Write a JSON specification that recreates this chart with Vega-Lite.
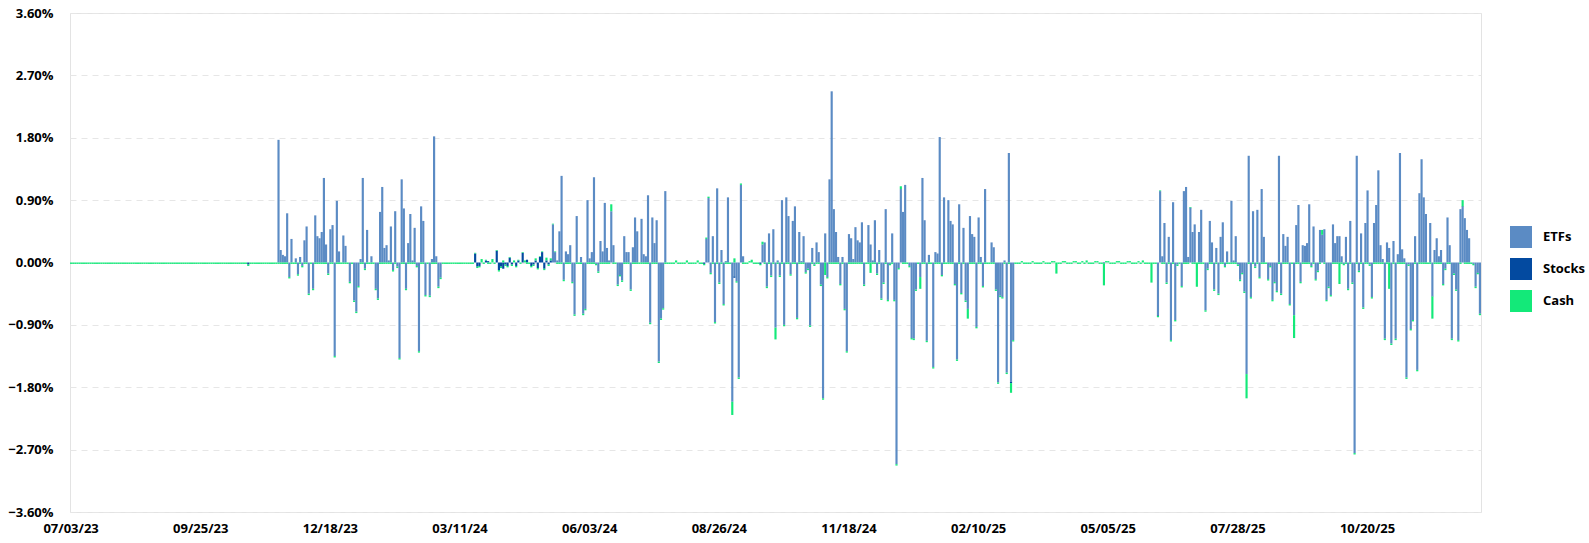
{
"$schema":"https://vega.github.io/schema/vega-lite/v6.json",
"width":1411,"height":499,
"autosize":{"type":"none"},
"padding":{"left":70,"top":13,"right":108,"bottom":31},
"background":"white",
"config":{"view":{"stroke":"#e3e3e3","strokeWidth":1},"font":"Open Sans"},
"data":{"values":[
{"d":"2023-07-03","e":0,"s":0,"c":-0.02},{"d":"2023-07-04","e":0,"s":0,"c":-0.02},{"d":"2023-07-05","e":0,"s":0,"c":-0.02},{"d":"2023-07-06","e":0,"s":0,"c":-0.02},{"d":"2023-07-07","e":0,"s":0,"c":-0.02},
{"d":"2023-07-10","e":0,"s":0,"c":-0.02},{"d":"2023-07-11","e":0,"s":0,"c":-0.02},{"d":"2023-07-12","e":0,"s":0,"c":-0.02},{"d":"2023-07-13","e":0,"s":0,"c":-0.02},{"d":"2023-07-14","e":0,"s":0,"c":-0.02},
{"d":"2023-07-17","e":0,"s":0,"c":-0.02},{"d":"2023-07-18","e":0,"s":0,"c":-0.02},{"d":"2023-07-19","e":0,"s":0,"c":-0.02},{"d":"2023-07-20","e":0,"s":0,"c":-0.02},{"d":"2023-07-21","e":0,"s":0,"c":-0.02},
{"d":"2023-07-24","e":0,"s":0,"c":-0.02},{"d":"2023-07-25","e":0,"s":0,"c":-0.02},{"d":"2023-07-26","e":0,"s":0,"c":-0.02},{"d":"2023-07-27","e":0,"s":0,"c":-0.02},{"d":"2023-07-28","e":0,"s":0,"c":-0.02},
{"d":"2023-07-31","e":0,"s":0,"c":-0.02},{"d":"2023-08-01","e":0,"s":0,"c":-0.02},{"d":"2023-08-02","e":0,"s":0,"c":-0.02},{"d":"2023-08-03","e":0,"s":0,"c":-0.02},{"d":"2023-08-04","e":0,"s":0,"c":-0.02},
{"d":"2023-08-07","e":0,"s":0,"c":-0.02},{"d":"2023-08-08","e":0,"s":0,"c":-0.02},{"d":"2023-08-09","e":0,"s":0,"c":-0.02},{"d":"2023-08-10","e":0,"s":0,"c":-0.02},{"d":"2023-08-11","e":0,"s":0,"c":-0.02},
{"d":"2023-08-14","e":0,"s":0,"c":-0.02},{"d":"2023-08-15","e":0,"s":0,"c":-0.02},{"d":"2023-08-16","e":0,"s":0,"c":-0.02},{"d":"2023-08-17","e":0,"s":0,"c":-0.02},{"d":"2023-08-18","e":0,"s":0,"c":-0.02},
{"d":"2023-08-21","e":0,"s":0,"c":-0.02},{"d":"2023-08-22","e":0,"s":0,"c":-0.02},{"d":"2023-08-23","e":0,"s":0,"c":-0.02},{"d":"2023-08-24","e":0,"s":0,"c":-0.02},{"d":"2023-08-25","e":0,"s":0,"c":-0.02},
{"d":"2023-08-28","e":0,"s":0,"c":-0.02},{"d":"2023-08-29","e":0,"s":0,"c":-0.02},{"d":"2023-08-30","e":0,"s":0,"c":-0.02},{"d":"2023-08-31","e":0,"s":0,"c":-0.02},{"d":"2023-09-01","e":0,"s":0,"c":-0.02},
{"d":"2023-09-04","e":0,"s":0,"c":-0.02},{"d":"2023-09-05","e":0,"s":0,"c":-0.02},{"d":"2023-09-06","e":0,"s":0,"c":-0.02},{"d":"2023-09-07","e":0,"s":0,"c":-0.02},{"d":"2023-09-08","e":0,"s":0,"c":-0.02},
{"d":"2023-09-11","e":0,"s":0,"c":-0.02},{"d":"2023-09-12","e":0,"s":0,"c":-0.02},{"d":"2023-09-13","e":0,"s":0,"c":-0.02},{"d":"2023-09-14","e":0,"s":0,"c":-0.02},{"d":"2023-09-15","e":0,"s":0,"c":-0.02},
{"d":"2023-09-18","e":0,"s":0,"c":-0.02},{"d":"2023-09-19","e":0,"s":0,"c":-0.02},{"d":"2023-09-20","e":0,"s":0,"c":-0.02},{"d":"2023-09-21","e":0,"s":0,"c":-0.02},{"d":"2023-09-22","e":0,"s":0,"c":-0.02},
{"d":"2023-09-25","e":0,"s":0,"c":-0.02},{"d":"2023-09-26","e":0,"s":0,"c":-0.02},{"d":"2023-09-27","e":0,"s":0,"c":-0.02},{"d":"2023-09-28","e":0,"s":0,"c":-0.02},{"d":"2023-09-29","e":0,"s":0,"c":-0.02},
{"d":"2023-10-02","e":0,"s":0,"c":-0.02},{"d":"2023-10-03","e":0,"s":0,"c":-0.02},{"d":"2023-10-04","e":0,"s":0,"c":-0.02},{"d":"2023-10-05","e":0,"s":0,"c":-0.02},{"d":"2023-10-06","e":0,"s":0,"c":-0.02},
{"d":"2023-10-09","e":0,"s":0,"c":-0.02},{"d":"2023-10-10","e":0,"s":0,"c":-0.02},{"d":"2023-10-11","e":0,"s":0,"c":-0.02},{"d":"2023-10-12","e":0,"s":0,"c":-0.02},{"d":"2023-10-13","e":0,"s":0,"c":-0.02},
{"d":"2023-10-16","e":0,"s":0,"c":-0.02},{"d":"2023-10-17","e":0,"s":0,"c":-0.02},{"d":"2023-10-18","e":0,"s":0,"c":-0.02},{"d":"2023-10-19","e":0,"s":0,"c":-0.02},{"d":"2023-10-20","e":0,"s":0,"c":-0.02},
{"d":"2023-10-23","e":0,"s":0,"c":-0.02},{"d":"2023-10-24","e":0,"s":0,"c":-0.02},{"d":"2023-10-25","e":0,"s":-0.03,"c":-0.02},{"d":"2023-10-26","e":0,"s":0,"c":-0.02},{"d":"2023-10-27","e":0,"s":0,"c":-0.02},
{"d":"2023-10-30","e":0,"s":0,"c":-0.02},{"d":"2023-10-31","e":0,"s":0,"c":-0.02},{"d":"2023-11-01","e":0,"s":0,"c":-0.02},{"d":"2023-11-02","e":0,"s":0,"c":-0.02},{"d":"2023-11-03","e":0,"s":0,"c":-0.02},
{"d":"2023-11-06","e":0,"s":0,"c":-0.02},{"d":"2023-11-07","e":0,"s":0,"c":-0.02},{"d":"2023-11-08","e":0,"s":0,"c":-0.02},{"d":"2023-11-09","e":0,"s":0,"c":-0.02},{"d":"2023-11-10","e":0,"s":0,"c":-0.02},
{"d":"2023-11-13","e":0,"s":0,"c":-0.02},{"d":"2023-11-14","e":1.77,"s":0,"c":-0.02},{"d":"2023-11-15","e":0.18,"s":0,"c":-0.02},{"d":"2023-11-16","e":0.11,"s":0,"c":-0.02},{"d":"2023-11-17","e":0.09,"s":0,"c":-0.02},
{"d":"2023-11-20","e":0.71,"s":0,"c":-0.02},{"d":"2023-11-21","e":-0.21,"s":0,"c":-0.02},{"d":"2023-11-22","e":0.34,"s":0,"c":-0.02},{"d":"2023-11-23","e":0,"s":0,"c":-0.02},{"d":"2023-11-24","e":0.06,"s":0,"c":-0.02},
{"d":"2023-11-27","e":-0.17,"s":0,"c":-0.02},{"d":"2023-11-28","e":0.08,"s":0,"c":-0.02},{"d":"2023-11-29","e":-0.05,"s":0,"c":-0.02},{"d":"2023-11-30","e":0.32,"s":0,"c":-0.02},{"d":"2023-12-01","e":0.52,"s":0,"c":-0.02},
{"d":"2023-12-04","e":-0.45,"s":0,"c":-0.02},{"d":"2023-12-05","e":0,"s":0,"c":-0.02},{"d":"2023-12-06","e":-0.38,"s":0,"c":-0.02},{"d":"2023-12-07","e":0.68,"s":0,"c":-0.02},{"d":"2023-12-08","e":0.38,"s":0,"c":-0.02},
{"d":"2023-12-11","e":0.35,"s":0,"c":-0.02},{"d":"2023-12-12","e":0.44,"s":0,"c":-0.02},{"d":"2023-12-13","e":1.22,"s":0,"c":-0.02},{"d":"2023-12-14","e":0.26,"s":0,"c":-0.02},{"d":"2023-12-15","e":-0.16,"s":0,"c":-0.02},
{"d":"2023-12-18","e":0.48,"s":0,"c":-0.02},{"d":"2023-12-19","e":0.54,"s":0,"c":-0.02},{"d":"2023-12-20","e":-1.35,"s":0,"c":-0.02},{"d":"2023-12-21","e":0.89,"s":0,"c":-0.02},{"d":"2023-12-22","e":0.16,"s":0,"c":-0.02},
{"d":"2023-12-25","e":0,"s":0,"c":-0.02},{"d":"2023-12-26","e":0.39,"s":0,"c":-0.02},{"d":"2023-12-27","e":0.24,"s":0,"c":-0.02},{"d":"2023-12-28","e":0,"s":0,"c":-0.02},{"d":"2023-12-29","e":-0.28,"s":0,"c":-0.02},
{"d":"2024-01-01","e":0,"s":0,"c":-0.02},{"d":"2024-01-02","e":-0.55,"s":0,"c":-0.02},{"d":"2024-01-03","e":-0.71,"s":0,"c":-0.02},{"d":"2024-01-04","e":-0.34,"s":0,"c":-0.02},{"d":"2024-01-05","e":0.05,"s":0,"c":-0.02},
{"d":"2024-01-08","e":1.22,"s":0,"c":-0.02},{"d":"2024-01-09","e":-0.09,"s":0,"c":-0.02},{"d":"2024-01-10","e":0.47,"s":0,"c":-0.02},{"d":"2024-01-11","e":0,"s":0,"c":-0.02},{"d":"2024-01-12","e":0.09,"s":0,"c":-0.02},
{"d":"2024-01-15","e":0,"s":0,"c":-0.02},{"d":"2024-01-16","e":-0.38,"s":0,"c":-0.02},{"d":"2024-01-17","e":-0.52,"s":0,"c":-0.02},{"d":"2024-01-18","e":0.73,"s":0,"c":-0.02},{"d":"2024-01-19","e":1.09,"s":0,"c":-0.02},
{"d":"2024-01-22","e":0.21,"s":0,"c":-0.02},{"d":"2024-01-23","e":0.25,"s":0,"c":-0.02},{"d":"2024-01-24","e":0.03,"s":0,"c":-0.02},{"d":"2024-01-25","e":0.52,"s":0,"c":-0.02},{"d":"2024-01-26","e":-0.11,"s":0,"c":-0.02},
{"d":"2024-01-29","e":0.74,"s":0,"c":-0.02},{"d":"2024-01-30","e":-0.06,"s":0,"c":-0.02},{"d":"2024-01-31","e":-1.38,"s":0,"c":-0.02},{"d":"2024-02-01","e":1.2,"s":0,"c":-0.02},{"d":"2024-02-02","e":0.78,"s":0,"c":-0.02},
{"d":"2024-02-05","e":-0.38,"s":0,"c":-0.02},{"d":"2024-02-06","e":0.28,"s":0,"c":-0.02},{"d":"2024-02-07","e":0.7,"s":0,"c":-0.02},{"d":"2024-02-08","e":0.03,"s":0,"c":-0.02},{"d":"2024-02-09","e":0.5,"s":0,"c":-0.02},
{"d":"2024-02-12","e":-0.05,"s":0,"c":-0.02},{"d":"2024-02-13","e":-1.28,"s":0,"c":-0.02},{"d":"2024-02-14","e":0.81,"s":0,"c":-0.02},{"d":"2024-02-15","e":0.6,"s":0,"c":-0.02},{"d":"2024-02-16","e":-0.47,"s":0,"c":-0.02},
{"d":"2024-02-19","e":0,"s":0,"c":-0.02},{"d":"2024-02-20","e":-0.48,"s":0,"c":-0.02},{"d":"2024-02-21","e":0.05,"s":0,"c":-0.02},{"d":"2024-02-22","e":1.82,"s":0,"c":-0.02},{"d":"2024-02-23","e":0.09,"s":0,"c":-0.02},
{"d":"2024-02-26","e":-0.35,"s":0,"c":-0.02},{"d":"2024-02-27","e":-0.22,"s":0,"c":-0.02},{"d":"2024-02-28","e":0,"s":0,"c":-0.02},{"d":"2024-02-29","e":0,"s":0,"c":-0.02},{"d":"2024-03-01","e":0,"s":0,"c":-0.02},
{"d":"2024-03-04","e":0,"s":0,"c":-0.02},{"d":"2024-03-05","e":0,"s":0,"c":-0.02},{"d":"2024-03-06","e":0,"s":0,"c":-0.02},{"d":"2024-03-07","e":0,"s":0,"c":-0.02},{"d":"2024-03-08","e":0,"s":0,"c":-0.02},
{"d":"2024-03-11","e":0,"s":0,"c":-0.02},{"d":"2024-03-12","e":0,"s":0,"c":-0.02},{"d":"2024-03-13","e":0,"s":0,"c":-0.02},{"d":"2024-03-14","e":0,"s":0,"c":-0.02},{"d":"2024-03-15","e":0,"s":0,"c":-0.02},
{"d":"2024-03-18","e":0,"s":0,"c":-0.02},{"d":"2024-03-19","e":0,"s":0,"c":-0.02},{"d":"2024-03-20","e":0,"s":0.13,"c":0.01},{"d":"2024-03-21","e":0,"s":-0.06,"c":-0.02},{"d":"2024-03-22","e":0,"s":-0.05,"c":-0.02},
{"d":"2024-03-25","e":0,"s":0,"c":0.05},{"d":"2024-03-26","e":0,"s":0,"c":-0.02},{"d":"2024-03-27","e":0,"s":0.03,"c":0.01},{"d":"2024-03-28","e":0,"s":0.02,"c":-0.02},{"d":"2024-03-29","e":0,"s":0,"c":-0.02},
{"d":"2024-04-01","e":0,"s":0,"c":0.05},{"d":"2024-04-02","e":0,"s":0,"c":-0.02},{"d":"2024-04-03","e":0,"s":0.17,"c":0.01},{"d":"2024-04-04","e":0,"s":-0.11,"c":-0.02},{"d":"2024-04-05","e":0,"s":-0.06,"c":-0.02},
{"d":"2024-04-08","e":0,"s":-0.09,"c":0.03},{"d":"2024-04-09","e":0,"s":-0.03,"c":-0.02},{"d":"2024-04-10","e":0,"s":-0.05,"c":-0.02},{"d":"2024-04-11","e":0,"s":0.07,"c":0.01},{"d":"2024-04-12","e":0,"s":-0.03,"c":-0.02},
{"d":"2024-04-15","e":0,"s":0,"c":0.03},{"d":"2024-04-16","e":0,"s":-0.05,"c":-0.02},{"d":"2024-04-17","e":0,"s":0.03,"c":0.01},{"d":"2024-04-18","e":0,"s":0,"c":-0.02},{"d":"2024-04-19","e":0,"s":0.14,"c":0.01},
{"d":"2024-04-22","e":0,"s":0,"c":0.03},{"d":"2024-04-23","e":0,"s":0.04,"c":-0.02},{"d":"2024-04-24","e":0,"s":0,"c":-0.02},{"d":"2024-04-25","e":0,"s":-0.05,"c":-0.02},{"d":"2024-04-26","e":0,"s":-0.03,"c":-0.02},
{"d":"2024-04-29","e":0,"s":0.03,"c":0.03},{"d":"2024-04-30","e":0,"s":-0.08,"c":-0.02},{"d":"2024-05-01","e":0,"s":0.08,"c":0.01},{"d":"2024-05-02","e":0,"s":0.15,"c":0.01},{"d":"2024-05-03","e":0,"s":-0.09,"c":-0.02},
{"d":"2024-05-06","e":0,"s":0.03,"c":0.04},{"d":"2024-05-07","e":0,"s":-0.03,"c":-0.02},{"d":"2024-05-08","e":0,"s":0.03,"c":0.03},{"d":"2024-05-09","e":0.55,"s":0,"c":0.01},{"d":"2024-05-10","e":0.15,"s":0,"c":0.01},
{"d":"2024-05-13","e":0.03,"s":0,"c":-0.02},{"d":"2024-05-14","e":0.45,"s":0,"c":-0.02},{"d":"2024-05-15","e":1.25,"s":0,"c":-0.02},{"d":"2024-05-16","e":-0.25,"s":0,"c":-0.02},{"d":"2024-05-17","e":0.16,"s":0,"c":-0.02},
{"d":"2024-05-20","e":0.12,"s":0,"c":-0.02},{"d":"2024-05-21","e":0.25,"s":0,"c":-0.02},{"d":"2024-05-22","e":-0.28,"s":0,"c":-0.02},{"d":"2024-05-23","e":-0.75,"s":0,"c":-0.02},{"d":"2024-05-24","e":0.67,"s":0,"c":-0.02},
{"d":"2024-05-27","e":0,"s":0,"c":-0.02},{"d":"2024-05-28","e":0.08,"s":0,"c":-0.02},{"d":"2024-05-29","e":-0.74,"s":0,"c":-0.02},{"d":"2024-05-30","e":-0.67,"s":0,"c":-0.02},{"d":"2024-05-31","e":0.9,"s":0,"c":-0.02},
{"d":"2024-06-03","e":0.06,"s":0,"c":-0.02},{"d":"2024-06-04","e":0.15,"s":0,"c":-0.02},{"d":"2024-06-05","e":1.23,"s":0,"c":-0.02},{"d":"2024-06-06","e":-0.02,"s":0,"c":-0.02},{"d":"2024-06-07","e":-0.13,"s":0,"c":-0.02},
{"d":"2024-06-10","e":0.31,"s":0,"c":-0.02},{"d":"2024-06-11","e":0.16,"s":0,"c":-0.02},{"d":"2024-06-12","e":0.86,"s":0,"c":-0.02},{"d":"2024-06-13","e":0.21,"s":0,"c":-0.02},{"d":"2024-06-14","e":0.03,"s":0,"c":-0.02},
{"d":"2024-06-17","e":0.74,"s":0,"c":0.1},{"d":"2024-06-18","e":0.25,"s":0,"c":-0.02},{"d":"2024-06-19","e":0,"s":0,"c":-0.02},{"d":"2024-06-20","e":-0.32,"s":0,"c":-0.02},{"d":"2024-06-21","e":-0.18,"s":0,"c":-0.02},
{"d":"2024-06-24","e":-0.26,"s":0,"c":-0.02},{"d":"2024-06-25","e":0.38,"s":0,"c":-0.02},{"d":"2024-06-26","e":0.15,"s":0,"c":-0.02},{"d":"2024-06-27","e":0.15,"s":0,"c":-0.02},{"d":"2024-06-28","e":-0.39,"s":0,"c":-0.02},
{"d":"2024-07-01","e":0.22,"s":0,"c":-0.02},{"d":"2024-07-02","e":0.65,"s":0,"c":-0.02},{"d":"2024-07-03","e":0.45,"s":0,"c":-0.02},{"d":"2024-07-04","e":0,"s":0,"c":-0.02},{"d":"2024-07-05","e":0.63,"s":0,"c":-0.02},
{"d":"2024-07-08","e":0.12,"s":0,"c":-0.02},{"d":"2024-07-09","e":0.09,"s":0,"c":-0.02},{"d":"2024-07-10","e":0.97,"s":0,"c":-0.02},{"d":"2024-07-11","e":-0.87,"s":0,"c":-0.02},{"d":"2024-07-12","e":0.65,"s":0,"c":-0.02},
{"d":"2024-07-15","e":0.28,"s":0,"c":-0.02},{"d":"2024-07-16","e":0.61,"s":0,"c":-0.02},{"d":"2024-07-17","e":-1.43,"s":0,"c":-0.02},{"d":"2024-07-18","e":-0.81,"s":0,"c":-0.02},{"d":"2024-07-19","e":-0.66,"s":0,"c":-0.02},
{"d":"2024-07-22","e":1.03,"s":0,"c":-0.02},{"d":"2024-07-23","e":0,"s":0,"c":-0.02},{"d":"2024-07-24","e":0,"s":0,"c":-0.02},{"d":"2024-07-25","e":0,"s":0,"c":-0.02},{"d":"2024-07-26","e":0,"s":0,"c":-0.02},
{"d":"2024-07-29","e":0,"s":0,"c":0.03},{"d":"2024-07-30","e":0,"s":0,"c":-0.02},{"d":"2024-07-31","e":0,"s":0,"c":-0.02},{"d":"2024-08-01","e":0,"s":0,"c":-0.02},{"d":"2024-08-02","e":0,"s":0,"c":-0.02},
{"d":"2024-08-05","e":0,"s":0,"c":0.03},{"d":"2024-08-06","e":0,"s":0,"c":-0.02},{"d":"2024-08-07","e":0,"s":0,"c":-0.02},{"d":"2024-08-08","e":0,"s":0,"c":-0.02},{"d":"2024-08-09","e":0,"s":0,"c":-0.02},
{"d":"2024-08-12","e":0,"s":0,"c":0.03},{"d":"2024-08-13","e":0,"s":0,"c":-0.02},{"d":"2024-08-14","e":0,"s":0,"c":-0.02},{"d":"2024-08-15","e":0,"s":-0.02,"c":-0.02},{"d":"2024-08-16","e":0.34,"s":0,"c":0.02},
{"d":"2024-08-19","e":0.93,"s":0,"c":0.02},{"d":"2024-08-20","e":-0.15,"s":0,"c":-0.02},{"d":"2024-08-21","e":0.38,"s":0,"c":-0.02},{"d":"2024-08-22","e":-0.86,"s":0,"c":-0.02},{"d":"2024-08-23","e":1.07,"s":0,"c":-0.02},
{"d":"2024-08-26","e":-0.29,"s":0,"c":-0.02},{"d":"2024-08-27","e":0.18,"s":0,"c":-0.02},{"d":"2024-08-28","e":-0.6,"s":0,"c":-0.02},{"d":"2024-08-29","e":0.02,"s":0,"c":-0.02},{"d":"2024-08-30","e":0.94,"s":0,"c":-0.02},
{"d":"2024-09-02","e":0,"s":0,"c":-0.02},{"d":"2024-09-03","e":-2.01,"s":0,"c":-0.19},{"d":"2024-09-04","e":-0.2,"s":-0.02,"c":0.06},{"d":"2024-09-05","e":-0.27,"s":0,"c":-0.02},{"d":"2024-09-06","e":-1.66,"s":0,"c":-0.02},
{"d":"2024-09-09","e":1.12,"s":0,"c":0.02},{"d":"2024-09-10","e":0.09,"s":0,"c":-0.02},{"d":"2024-09-11","e":0,"s":0,"c":-0.02},{"d":"2024-09-12","e":0,"s":0,"c":-0.02},{"d":"2024-09-13","e":0,"s":0,"c":0.02},
{"d":"2024-09-16","e":0,"s":0,"c":0.04},{"d":"2024-09-17","e":0,"s":0,"c":-0.02},{"d":"2024-09-18","e":0,"s":0,"c":-0.02},{"d":"2024-09-19","e":0,"s":0,"c":-0.02},{"d":"2024-09-20","e":0,"s":-0.02,"c":-0.02},
{"d":"2024-09-23","e":0.26,"s":0,"c":0.04},{"d":"2024-09-24","e":0.29,"s":0,"c":-0.02},{"d":"2024-09-25","e":-0.35,"s":0,"c":-0.02},{"d":"2024-09-26","e":0.42,"s":0,"c":-0.02},{"d":"2024-09-27","e":-0.19,"s":0,"c":-0.02},
{"d":"2024-09-30","e":0.48,"s":0,"c":-0.02},{"d":"2024-10-01","e":-0.94,"s":0,"c":-0.17},{"d":"2024-10-02","e":0.03,"s":0,"c":-0.02},{"d":"2024-10-03","e":-0.19,"s":0,"c":-0.02},{"d":"2024-10-04","e":0.9,"s":0,"c":-0.02},
{"d":"2024-10-07","e":-0.9,"s":0,"c":-0.02},{"d":"2024-10-08","e":0.94,"s":0,"c":-0.02},{"d":"2024-10-09","e":0.67,"s":0,"c":-0.02},{"d":"2024-10-10","e":-0.17,"s":0,"c":-0.02},{"d":"2024-10-11","e":0.6,"s":0,"c":-0.02},
{"d":"2024-10-14","e":0.81,"s":0,"c":-0.02},{"d":"2024-10-15","e":-0.8,"s":0,"c":-0.02},{"d":"2024-10-16","e":0.44,"s":0,"c":-0.02},{"d":"2024-10-17","e":0.02,"s":0,"c":-0.02},{"d":"2024-10-18","e":0.38,"s":0,"c":-0.02},
{"d":"2024-10-21","e":-0.14,"s":0,"c":-0.02},{"d":"2024-10-22","e":-0.09,"s":0,"c":-0.02},{"d":"2024-10-23","e":-0.91,"s":0,"c":-0.02},{"d":"2024-10-24","e":0.21,"s":0,"c":-0.02},{"d":"2024-10-25","e":-0.03,"s":0,"c":-0.02},
{"d":"2024-10-28","e":0.29,"s":0,"c":-0.02},{"d":"2024-10-29","e":0.15,"s":0,"c":-0.02},{"d":"2024-10-30","e":-0.32,"s":0,"c":-0.02},{"d":"2024-10-31","e":-1.96,"s":0,"c":-0.02},{"d":"2024-11-01","e":0.42,"s":0,"c":-0.18},
{"d":"2024-11-04","e":-0.21,"s":0,"c":-0.02},{"d":"2024-11-05","e":1.2,"s":0,"c":-0.02},{"d":"2024-11-06","e":2.47,"s":0,"c":-0.02},{"d":"2024-11-07","e":0.77,"s":0,"c":-0.02},{"d":"2024-11-08","e":0.44,"s":0,"c":-0.02},
{"d":"2024-11-11","e":0.08,"s":0,"c":-0.02},{"d":"2024-11-12","e":-0.31,"s":0,"c":-0.02},{"d":"2024-11-13","e":0.08,"s":0,"c":-0.02},{"d":"2024-11-14","e":-0.67,"s":0,"c":-0.02},{"d":"2024-11-15","e":-1.28,"s":0,"c":-0.02},
{"d":"2024-11-18","e":0.41,"s":0,"c":-0.02},{"d":"2024-11-19","e":0.35,"s":0,"c":-0.02},{"d":"2024-11-20","e":0.05,"s":0,"c":-0.02},{"d":"2024-11-21","e":0.51,"s":0,"c":-0.02},{"d":"2024-11-22","e":0.32,"s":0,"c":-0.02},
{"d":"2024-11-25","e":0.29,"s":0,"c":-0.02},{"d":"2024-11-26","e":0.58,"s":0,"c":-0.02},{"d":"2024-11-27","e":-0.32,"s":0,"c":-0.02},{"d":"2024-11-28","e":0,"s":0,"c":-0.02},{"d":"2024-11-29","e":0.54,"s":0,"c":-0.02},
{"d":"2024-12-02","e":0.26,"s":0,"c":-0.15},{"d":"2024-12-03","e":0.03,"s":0,"c":-0.02},{"d":"2024-12-04","e":0.61,"s":0,"c":-0.02},{"d":"2024-12-05","e":-0.16,"s":0,"c":-0.02},{"d":"2024-12-06","e":0.18,"s":0,"c":-0.02},
{"d":"2024-12-09","e":-0.52,"s":0,"c":-0.02},{"d":"2024-12-10","e":-0.29,"s":0,"c":-0.02},{"d":"2024-12-11","e":0.77,"s":0,"c":-0.02},{"d":"2024-12-12","e":-0.54,"s":0,"c":-0.02},{"d":"2024-12-13","e":-0.02,"s":0,"c":-0.02},
{"d":"2024-12-16","e":0.42,"s":0,"c":-0.02},{"d":"2024-12-17","e":-0.54,"s":0,"c":-0.02},{"d":"2024-12-18","e":-2.91,"s":0,"c":-0.02},{"d":"2024-12-19","e":-0.08,"s":0,"c":-0.02},{"d":"2024-12-20","e":1.06,"s":0,"c":0.04},
{"d":"2024-12-23","e":0.73,"s":0,"c":-0.02},{"d":"2024-12-24","e":1.12,"s":0,"c":-0.02},{"d":"2024-12-25","e":0,"s":0,"c":-0.02},{"d":"2024-12-26","e":-0.05,"s":0,"c":-0.02},{"d":"2024-12-27","e":-1.09,"s":0,"c":-0.02},
{"d":"2024-12-30","e":-1.1,"s":0,"c":-0.02},{"d":"2024-12-31","e":-0.39,"s":0,"c":-0.02},{"d":"2025-01-01","e":0,"s":0,"c":-0.02},{"d":"2025-01-02","e":-0.21,"s":0,"c":-0.17},{"d":"2025-01-03","e":1.22,"s":0,"c":-0.02},
{"d":"2025-01-06","e":0.61,"s":0,"c":-0.02},{"d":"2025-01-07","e":-1.13,"s":0,"c":-0.02},{"d":"2025-01-08","e":0.11,"s":0,"c":-0.02},{"d":"2025-01-09","e":0,"s":0,"c":-0.02},{"d":"2025-01-10","e":-1.51,"s":0,"c":-0.02},
{"d":"2025-01-13","e":0.15,"s":0,"c":-0.02},{"d":"2025-01-14","e":0.13,"s":0,"c":-0.02},{"d":"2025-01-15","e":1.81,"s":0,"c":-0.02},{"d":"2025-01-16","e":-0.18,"s":0,"c":-0.02},{"d":"2025-01-17","e":0.94,"s":0,"c":-0.02},
{"d":"2025-01-20","e":0,"s":0,"c":-0.02},{"d":"2025-01-21","e":0.9,"s":0,"c":-0.02},{"d":"2025-01-22","e":0.6,"s":0,"c":-0.02},{"d":"2025-01-23","e":0.55,"s":0,"c":-0.02},{"d":"2025-01-24","e":-0.31,"s":0,"c":-0.02},
{"d":"2025-01-27","e":-1.4,"s":0,"c":-0.02},{"d":"2025-01-28","e":0.84,"s":0,"c":-0.02},{"d":"2025-01-29","e":-0.44,"s":0,"c":-0.02},{"d":"2025-01-30","e":0.5,"s":0,"c":-0.02},{"d":"2025-01-31","e":-0.55,"s":0,"c":-0.02},
{"d":"2025-02-03","e":-0.67,"s":0,"c":-0.14},{"d":"2025-02-04","e":0.67,"s":0,"c":-0.02},{"d":"2025-02-05","e":0.41,"s":0,"c":-0.02},{"d":"2025-02-06","e":0.37,"s":0,"c":-0.02},{"d":"2025-02-07","e":-0.93,"s":0,"c":-0.02},
{"d":"2025-02-10","e":0.65,"s":0,"c":-0.02},{"d":"2025-02-11","e":0.08,"s":0,"c":-0.02},{"d":"2025-02-12","e":-0.34,"s":0,"c":-0.02},{"d":"2025-02-13","e":1.06,"s":0,"c":-0.02},{"d":"2025-02-14","e":0,"s":0,"c":-0.02},
{"d":"2025-02-17","e":0,"s":0,"c":-0.02},{"d":"2025-02-18","e":0.29,"s":0,"c":-0.02},{"d":"2025-02-19","e":0.22,"s":0,"c":-0.02},{"d":"2025-02-20","e":-0.39,"s":0,"c":-0.02},{"d":"2025-02-21","e":-1.73,"s":0,"c":-0.02},
{"d":"2025-02-24","e":-0.48,"s":0,"c":-0.02},{"d":"2025-02-25","e":-0.5,"s":0,"c":-0.02},{"d":"2025-02-26","e":0.03,"s":0,"c":-0.02},{"d":"2025-02-27","e":-1.59,"s":0,"c":-0.02},{"d":"2025-02-28","e":1.58,"s":0,"c":-0.02},
{"d":"2025-03-03","e":-1.72,"s":-0.02,"c":-0.14},{"d":"2025-03-04","e":-1.12,"s":0,"c":-0.02},{"d":"2025-03-05","e":0,"s":0,"c":-0.02},{"d":"2025-03-06","e":0,"s":0,"c":-0.02},{"d":"2025-03-07","e":0,"s":0,"c":-0.02},
{"d":"2025-03-10","e":0,"s":0,"c":0.02},{"d":"2025-03-11","e":0,"s":0,"c":-0.02},{"d":"2025-03-12","e":0,"s":0,"c":-0.02},{"d":"2025-03-13","e":0,"s":0,"c":-0.02},{"d":"2025-03-14","e":0,"s":0,"c":-0.02},
{"d":"2025-03-17","e":0,"s":0,"c":0.02},{"d":"2025-03-18","e":0,"s":0,"c":-0.02},{"d":"2025-03-19","e":0,"s":0,"c":-0.02},{"d":"2025-03-20","e":0,"s":0,"c":-0.02},{"d":"2025-03-21","e":0,"s":0,"c":-0.02},
{"d":"2025-03-24","e":0,"s":0,"c":0.02},{"d":"2025-03-25","e":0,"s":0,"c":-0.02},{"d":"2025-03-26","e":0,"s":0,"c":-0.02},{"d":"2025-03-27","e":0,"s":0,"c":-0.02},{"d":"2025-03-28","e":0,"s":0,"c":0.02},
{"d":"2025-03-31","e":0,"s":0,"c":0.02},{"d":"2025-04-01","e":0,"s":0,"c":-0.16},{"d":"2025-04-02","e":0,"s":0,"c":-0.02},{"d":"2025-04-03","e":0,"s":0,"c":-0.02},{"d":"2025-04-04","e":0,"s":0,"c":0.02},
{"d":"2025-04-07","e":0,"s":0,"c":0.02},{"d":"2025-04-08","e":0,"s":0,"c":-0.02},{"d":"2025-04-09","e":0,"s":0,"c":-0.02},{"d":"2025-04-10","e":0,"s":0,"c":-0.02},{"d":"2025-04-11","e":0,"s":0,"c":0.02},
{"d":"2025-04-14","e":0,"s":0,"c":0.02},{"d":"2025-04-15","e":0,"s":0,"c":-0.02},{"d":"2025-04-16","e":0,"s":0,"c":-0.02},{"d":"2025-04-17","e":0,"s":0,"c":0.02},{"d":"2025-04-18","e":0,"s":0,"c":-0.02},
{"d":"2025-04-21","e":0,"s":0,"c":0.03},{"d":"2025-04-22","e":0,"s":0,"c":-0.02},{"d":"2025-04-23","e":0,"s":0,"c":-0.02},{"d":"2025-04-24","e":0,"s":0,"c":-0.02},{"d":"2025-04-25","e":0,"s":0,"c":0.02},
{"d":"2025-04-28","e":0,"s":0,"c":0.02},{"d":"2025-04-29","e":0,"s":0,"c":-0.02},{"d":"2025-04-30","e":0,"s":0,"c":-0.02},{"d":"2025-05-01","e":0,"s":-0.01,"c":-0.32},{"d":"2025-05-02","e":0,"s":0,"c":0.02},
{"d":"2025-05-05","e":0,"s":0,"c":0.02},{"d":"2025-05-06","e":0,"s":0,"c":-0.02},{"d":"2025-05-07","e":0,"s":0,"c":-0.02},{"d":"2025-05-08","e":0,"s":0,"c":-0.02},{"d":"2025-05-09","e":0,"s":0,"c":0.02},
{"d":"2025-05-12","e":0,"s":0,"c":0.02},{"d":"2025-05-13","e":0,"s":0,"c":-0.02},{"d":"2025-05-14","e":0,"s":0,"c":-0.02},{"d":"2025-05-15","e":0,"s":0,"c":-0.02},{"d":"2025-05-16","e":0,"s":0,"c":0.02},
{"d":"2025-05-19","e":0,"s":0,"c":0.02},{"d":"2025-05-20","e":0,"s":0,"c":-0.02},{"d":"2025-05-21","e":0,"s":0,"c":-0.02},{"d":"2025-05-22","e":0,"s":0,"c":-0.02},{"d":"2025-05-23","e":0,"s":0,"c":0.02},
{"d":"2025-05-26","e":0,"s":0,"c":-0.02},{"d":"2025-05-27","e":0,"s":0,"c":0.03},{"d":"2025-05-28","e":0,"s":0,"c":-0.02},{"d":"2025-05-29","e":0,"s":0,"c":-0.02},{"d":"2025-05-30","e":0,"s":0,"c":-0.02},
{"d":"2025-06-02","e":0,"s":0,"c":-0.29},{"d":"2025-06-03","e":0,"s":0,"c":-0.02},{"d":"2025-06-04","e":0,"s":0,"c":-0.02},{"d":"2025-06-05","e":-0.76,"s":-0.01,"c":-0.02},{"d":"2025-06-06","e":1.03,"s":0,"c":0.01},
{"d":"2025-06-09","e":0.09,"s":0,"c":-0.02},{"d":"2025-06-10","e":0.57,"s":0,"c":-0.02},{"d":"2025-06-11","e":-0.29,"s":0,"c":-0.02},{"d":"2025-06-12","e":0.37,"s":0,"c":-0.02},{"d":"2025-06-13","e":-1.12,"s":0,"c":-0.02},
{"d":"2025-06-16","e":0.87,"s":0,"c":-0.02},{"d":"2025-06-17","e":-0.83,"s":0,"c":-0.02},{"d":"2025-06-18","e":-0.03,"s":0,"c":-0.02},{"d":"2025-06-19","e":0,"s":0,"c":-0.02},{"d":"2025-06-20","e":-0.34,"s":0,"c":-0.02},
{"d":"2025-06-23","e":1.03,"s":0,"c":-0.02},{"d":"2025-06-24","e":1.09,"s":0,"c":-0.02},{"d":"2025-06-25","e":0.08,"s":0,"c":-0.02},{"d":"2025-06-26","e":0.78,"s":0.01,"c":0.01},{"d":"2025-06-27","e":0.44,"s":0,"c":-0.02},
{"d":"2025-06-30","e":0.55,"s":0,"c":-0.02},{"d":"2025-07-01","e":0,"s":0,"c":-0.35},{"d":"2025-07-02","e":0.44,"s":0,"c":-0.02},{"d":"2025-07-03","e":0.76,"s":0,"c":-0.02},{"d":"2025-07-04","e":0,"s":0,"c":-0.02},
{"d":"2025-07-07","e":-0.69,"s":0,"c":-0.02},{"d":"2025-07-08","e":-0.09,"s":0,"c":-0.02},{"d":"2025-07-09","e":0.6,"s":0,"c":-0.02},{"d":"2025-07-10","e":0.29,"s":0,"c":-0.02},{"d":"2025-07-11","e":-0.39,"s":0,"c":-0.02},
{"d":"2025-07-14","e":0.21,"s":0,"c":-0.02},{"d":"2025-07-15","e":-0.45,"s":0,"c":-0.02},{"d":"2025-07-16","e":0.37,"s":0,"c":-0.02},{"d":"2025-07-17","e":0.58,"s":0,"c":-0.02},{"d":"2025-07-18","e":-0.05,"s":0,"c":-0.02},
{"d":"2025-07-21","e":0.16,"s":0,"c":-0.02},{"d":"2025-07-22","e":0,"s":0,"c":-0.02},{"d":"2025-07-23","e":0.89,"s":0,"c":-0.02},{"d":"2025-07-24","e":0.03,"s":0,"c":-0.02},{"d":"2025-07-25","e":0.38,"s":0,"c":-0.02},
{"d":"2025-07-28","e":-0.03,"s":0,"c":-0.02},{"d":"2025-07-29","e":-0.25,"s":0,"c":-0.02},{"d":"2025-07-30","e":-0.15,"s":0,"c":-0.02},{"d":"2025-07-31","e":-0.42,"s":0,"c":-0.02},{"d":"2025-08-01","e":-1.61,"s":0,"c":-0.35},
{"d":"2025-08-04","e":1.54,"s":0,"c":-0.02},{"d":"2025-08-05","e":-0.5,"s":0,"c":-0.02},{"d":"2025-08-06","e":0.74,"s":0,"c":-0.02},{"d":"2025-08-07","e":-0.06,"s":0,"c":-0.02},{"d":"2025-08-08","e":0.76,"s":0,"c":-0.02},
{"d":"2025-08-11","e":-0.21,"s":0,"c":-0.02},{"d":"2025-08-12","e":1.06,"s":0,"c":-0.02},{"d":"2025-08-13","e":0.37,"s":0,"c":-0.02},{"d":"2025-08-14","e":0,"s":0,"c":-0.02},{"d":"2025-08-15","e":-0.24,"s":0,"c":-0.02},
{"d":"2025-08-18","e":-0.05,"s":0,"c":-0.02},{"d":"2025-08-19","e":-0.54,"s":0,"c":-0.02},{"d":"2025-08-20","e":-0.28,"s":0,"c":-0.02},{"d":"2025-08-21","e":-0.41,"s":0,"c":-0.02},{"d":"2025-08-22","e":1.54,"s":0,"c":-0.02},
{"d":"2025-08-25","e":-0.45,"s":0,"c":-0.02},{"d":"2025-08-26","e":0.41,"s":0,"c":-0.02},{"d":"2025-08-27","e":0.24,"s":0,"c":-0.02},{"d":"2025-08-28","e":0.37,"s":0,"c":-0.02},{"d":"2025-08-29","e":-0.6,"s":0,"c":-0.02},
{"d":"2025-09-01","e":0,"s":0,"c":-0.02},{"d":"2025-09-02","e":-0.76,"s":0,"c":-0.33},{"d":"2025-09-03","e":0.54,"s":0,"c":-0.02},{"d":"2025-09-04","e":0.83,"s":0,"c":-0.02},{"d":"2025-09-05","e":-0.28,"s":0,"c":-0.02},
{"d":"2025-09-08","e":0.25,"s":0,"c":-0.02},{"d":"2025-09-09","e":0.24,"s":0,"c":-0.02},{"d":"2025-09-10","e":0.28,"s":0,"c":-0.02},{"d":"2025-09-11","e":0.84,"s":0,"c":-0.02},{"d":"2025-09-12","e":-0.05,"s":0,"c":-0.02},
{"d":"2025-09-15","e":0.52,"s":0,"c":-0.02},{"d":"2025-09-16","e":-0.24,"s":0,"c":-0.02},{"d":"2025-09-17","e":-0.12,"s":0,"c":-0.02},{"d":"2025-09-18","e":0.47,"s":0,"c":-0.02},{"d":"2025-09-19","e":0.4,"s":0,"c":0.07},
{"d":"2025-09-22","e":0.48,"s":0,"c":-0.02},{"d":"2025-09-23","e":-0.54,"s":0,"c":-0.02},{"d":"2025-09-24","e":-0.35,"s":0,"c":-0.02},{"d":"2025-09-25","e":-0.47,"s":0,"c":-0.02},{"d":"2025-09-26","e":0.55,"s":0,"c":-0.02},
{"d":"2025-09-29","e":0.28,"s":0,"c":-0.02},{"d":"2025-09-30","e":0.38,"s":0,"c":-0.02},{"d":"2025-10-01","e":0.38,"s":0,"c":-0.31},{"d":"2025-10-02","e":0.09,"s":0,"c":-0.02},{"d":"2025-10-03","e":-0.02,"s":0,"c":-0.02},
{"d":"2025-10-06","e":0.37,"s":0,"c":-0.02},{"d":"2025-10-07","e":-0.38,"s":0,"c":-0.02},{"d":"2025-10-08","e":0.6,"s":0,"c":-0.02},{"d":"2025-10-09","e":-0.29,"s":0,"c":-0.02},{"d":"2025-10-10","e":-2.75,"s":0,"c":-0.02},
{"d":"2025-10-13","e":1.54,"s":0,"c":-0.02},{"d":"2025-10-14","e":-0.12,"s":0,"c":-0.02},{"d":"2025-10-15","e":0.42,"s":0,"c":-0.02},{"d":"2025-10-16","e":-0.65,"s":0,"c":-0.02},{"d":"2025-10-17","e":0.57,"s":0,"c":-0.02},
{"d":"2025-10-20","e":1.04,"s":0,"c":-0.02},{"d":"2025-10-21","e":-0.03,"s":0,"c":-0.02},{"d":"2025-10-22","e":-0.5,"s":0,"c":-0.02},{"d":"2025-10-23","e":0.57,"s":0,"c":-0.02},{"d":"2025-10-24","e":0.83,"s":0,"c":-0.02},
{"d":"2025-10-27","e":1.33,"s":0,"c":-0.02},{"d":"2025-10-28","e":0.25,"s":0,"c":-0.02},{"d":"2025-10-29","e":0.05,"s":0,"c":-0.02},{"d":"2025-10-30","e":-1.1,"s":0,"c":-0.02},{"d":"2025-10-31","e":0.29,"s":0,"c":-0.02},
{"d":"2025-11-03","e":0.21,"s":0,"c":-0.38},{"d":"2025-11-04","e":-1.17,"s":0,"c":-0.02},{"d":"2025-11-05","e":0.31,"s":0,"c":-0.02},{"d":"2025-11-06","e":-1.1,"s":0,"c":-0.02},{"d":"2025-11-07","e":0.12,"s":0,"c":-0.02},
{"d":"2025-11-10","e":1.58,"s":0,"c":-0.02},{"d":"2025-11-11","e":0.19,"s":0,"c":-0.02},{"d":"2025-11-12","e":0.06,"s":0,"c":-0.02},{"d":"2025-11-13","e":-1.66,"s":0,"c":-0.02},{"d":"2025-11-14","e":-0.03,"s":0,"c":-0.02},
{"d":"2025-11-17","e":-0.96,"s":0,"c":-0.02},{"d":"2025-11-18","e":-0.83,"s":0,"c":-0.02},{"d":"2025-11-19","e":0.38,"s":0,"c":-0.02},{"d":"2025-11-20","e":-1.55,"s":0,"c":-0.02},{"d":"2025-11-21","e":1.0,"s":0,"c":-0.02},
{"d":"2025-11-24","e":1.49,"s":0,"c":-0.02},{"d":"2025-11-25","e":0.94,"s":0,"c":-0.02},{"d":"2025-11-26","e":0.7,"s":0,"c":-0.02},{"d":"2025-11-27","e":0,"s":0,"c":-0.02},{"d":"2025-11-28","e":0.57,"s":0,"c":-0.02},
{"d":"2025-12-01","e":-0.48,"s":-0.01,"c":-0.32},{"d":"2025-12-02","e":0.18,"s":0,"c":-0.02},{"d":"2025-12-03","e":0.35,"s":0,"c":-0.02},{"d":"2025-12-04","e":0.09,"s":0,"c":-0.02},{"d":"2025-12-05","e":0.18,"s":0,"c":-0.02},
{"d":"2025-12-08","e":-0.31,"s":0,"c":-0.02},{"d":"2025-12-09","e":-0.09,"s":0,"c":-0.02},{"d":"2025-12-10","e":0.65,"s":0,"c":-0.02},{"d":"2025-12-11","e":0.25,"s":0,"c":-0.02},{"d":"2025-12-12","e":-1.1,"s":0,"c":-0.02},
{"d":"2025-12-15","e":-0.16,"s":0,"c":-0.02},{"d":"2025-12-16","e":-0.39,"s":0,"c":-0.02},{"d":"2025-12-17","e":-1.12,"s":0,"c":-0.02},{"d":"2025-12-18","e":0.77,"s":0,"c":-0.02},{"d":"2025-12-19","e":0.8,"s":0.01,"c":0.09},
{"d":"2025-12-22","e":0.64,"s":0,"c":-0.02},{"d":"2025-12-23","e":0.47,"s":0,"c":-0.02},{"d":"2025-12-24","e":0.35,"s":0,"c":-0.02},{"d":"2025-12-25","e":0,"s":0,"c":-0.02},{"d":"2025-12-26","e":-0.02,"s":0,"c":-0.02},
{"d":"2025-12-29","e":-0.35,"s":0,"c":-0.02},{"d":"2025-12-30","e":-0.15,"s":0,"c":-0.02},{"d":"2025-12-31","e":-0.74,"s":0,"c":-0.02}
]},
"transform":[
{"fold":["e","s","c"],"as":["k","v"]},
{"calculate":"indexof(['e','s','c'], datum.k)","as":"o"}
],
"mark":{"type":"bar"},
"encoding":{
"x":{"field":"d","type":"ordinal","scale":{"paddingInner":0,"paddingOuter":0},
"axis":{"title":null,"values":["2023-07-03","2023-09-25","2023-12-18","2024-03-11","2024-06-03","2024-08-26","2024-11-18","2025-02-10","2025-05-05","2025-07-28","2025-10-20"],
"labelExpr":"slice(datum.value,5,7)+'/'+slice(datum.value,8,10)+'/'+slice(datum.value,2,4)",
"labelAngle":0,"ticks":false,"domain":false,"grid":false,"labelOverlap":false,"labelPadding":10,
"labelFont":"Open Sans","labelFontWeight":"bold","labelFontSize":13,"labelColor":"#000000"}},
"y":{"field":"v","type":"quantitative","stack":"zero","scale":{"domain":[-3.6,3.6],"nice":false},
"axis":{"title":null,"values":[-3.6,-2.7,-1.8,-0.9,0,0.9,1.8,2.7,3.6],"labelExpr":"format(datum.value,'.2f')+'%'",
"ticks":false,"domain":false,"grid":true,"gridColor":"#e6e6e6","gridDash":[6,5],"gridWidth":1,"labelPadding":17,
"labelFont":"Open Sans","labelFontWeight":"bold","labelFontSize":13,"labelColor":"#000000"}},
"color":{"field":"k","type":"nominal","scale":{"domain":["e","s","c"],"range":["#5B8BC4","#034AA0","#13E979"]},
"legend":{"title":null,"orient":"none","legendX":1440,"legendY":213,"symbolType":"square","symbolSize":484,"symbolStrokeWidth":0,"symbolOpacity":1,
"rowPadding":10,"labelOffset":11,"labelFont":"Open Sans","labelFontWeight":"bold","labelFontSize":13,"labelColor":"#000000",
"labelExpr":"datum.label=='e'?'ETFs':datum.label=='s'?'Stocks':'Cash'"}},
"order":{"field":"o","type":"quantitative"}
}
}
